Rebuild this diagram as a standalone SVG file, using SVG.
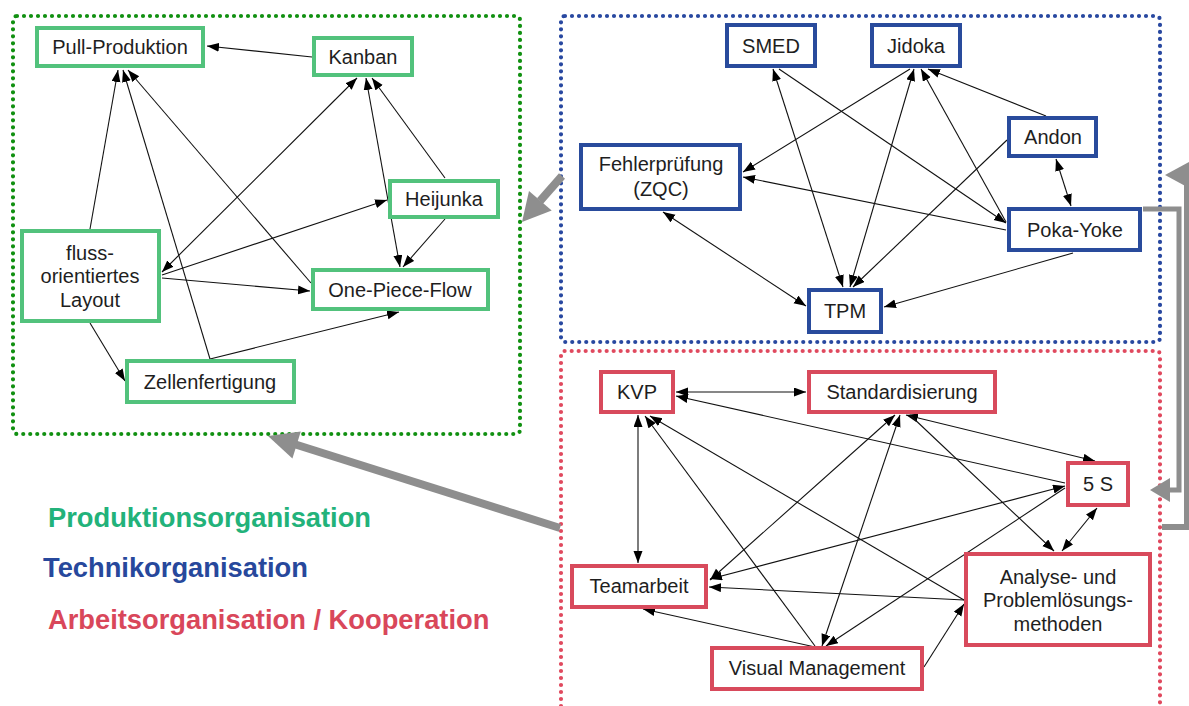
<svg xmlns="http://www.w3.org/2000/svg" width="1189" height="706" viewBox="0 0 1189 706">
  <style>
    .lbl { font-family: "Liberation Sans", Arial, sans-serif; font-size: 20px; fill: #1e1e1e; text-anchor: middle; }
    .leg { font-family: "Liberation Sans", Arial, sans-serif; font-size: 27.3px; font-weight: bold; }
    .g { fill: #ffffff; stroke: #52c27c; stroke-width: 4; }
    .b { fill: #ffffff; stroke: #294b9c; stroke-width: 4; }
    .r { fill: #ffffff; stroke: #d84a5c; stroke-width: 4; }
    .frame { fill: none; stroke-width: 4.2; stroke-linecap: round; stroke-dasharray: 0 7; }
    .edge { fill: none; stroke: #111111; stroke-width: 1.1; }
    .one { marker-end: url(#ah); }
    .two { marker-start: url(#ah); marker-end: url(#ah); }
    .grey { fill: #8e8e8e; }
    .greyline { fill: none; stroke: #8e8e8e; }
  </style>
  <defs>
    <marker id="ah" markerUnits="userSpaceOnUse" markerWidth="13" markerHeight="10" refX="12" refY="4.5" orient="auto-start-reverse">
      <path d="M0,0 L12,4.5 L0,9 z" fill="#000000"/>
    </marker>
  </defs>

  <rect width="1189" height="706" fill="#ffffff"/>

  <!-- dotted area frames -->
  <g id="frames">
    <rect class="frame" x="13" y="16" width="507" height="418" rx="4" stroke="#119011"/>
    <rect class="frame" x="561" y="16" width="599" height="326" rx="4" stroke="#2848a0"/>
    <path class="frame" d="M561,720 V355 Q561,351 565,351 H1156 Q1160,351 1160,355 V720" stroke="#e0495e"/>
  </g>

  <!-- grey arrows between the areas -->
  <g id="area-links">
    <line class="greyline" x1="562" y1="176" x2="540" y2="201" stroke-width="8"/>
    <polygon class="grey" points="522,222 551.7,210.6 529,191"/>
    <line class="greyline" x1="560" y1="528" x2="294" y2="444" stroke-width="8"/>
    <polygon class="grey" points="268,436 300.8,431.6 292.4,458.4"/>
    <path class="greyline" d="M1143,209 H1179 V490 H1168" stroke-width="5"/>
    <polygon class="grey" points="1150,490 1170,478 1170,502"/>
    <path class="greyline" d="M1162,527 H1187 V175 H1186" stroke-width="6"/>
    <polygon class="grey" points="1165,175 1189,162 1189,188"/>
  </g>

  <!-- connectors -->
  <g id="connectors">
    <!-- Produktionsorganisation -->
    <line class="edge one" x1="312" y1="57" x2="207" y2="46"/>
    <line class="edge one" x1="90" y1="229" x2="118" y2="70"/>
    <line class="edge one" x1="210" y1="359" x2="123" y2="70"/>
    <line class="edge one" x1="311" y1="283" x2="128" y2="70"/>
    <line class="edge two" x1="162" y1="272" x2="357" y2="78"/>
    <line class="edge two" x1="366" y1="78" x2="400" y2="267"/>
    <line class="edge one" x1="445" y1="178" x2="372" y2="78"/>
    <line class="edge one" x1="162" y1="275" x2="387" y2="200"/>
    <line class="edge one" x1="162" y1="278" x2="310" y2="291"/>
    <line class="edge one" x1="445" y1="219" x2="403" y2="267"/>
    <line class="edge one" x1="90" y1="323" x2="125" y2="381"/>
    <line class="edge one" x1="210" y1="359" x2="399" y2="312"/>
    <!-- Technikorganisation -->
    <line class="edge two" x1="773" y1="69" x2="843" y2="287"/>
    <line class="edge one" x1="779" y1="69" x2="1006" y2="223"/>
    <line class="edge one" x1="910" y1="69" x2="743" y2="172"/>
    <line class="edge two" x1="914" y1="69" x2="850" y2="287"/>
    <line class="edge one" x1="1006" y1="222" x2="921" y2="69"/>
    <line class="edge one" x1="1046" y1="116" x2="928" y2="69"/>
    <line class="edge one" x1="1007" y1="140" x2="853" y2="287"/>
    <line class="edge two" x1="1056" y1="159" x2="1071" y2="206"/>
    <line class="edge one" x1="1006" y1="230" x2="743" y2="177"/>
    <line class="edge two" x1="663" y1="212" x2="806" y2="306"/>
    <line class="edge one" x1="1073" y1="253" x2="884" y2="307"/>
    <!-- Arbeitsorganisation / Kooperation -->
    <line class="edge two" x1="676" y1="392" x2="806" y2="392"/>
    <line class="edge one" x1="1065" y1="483" x2="676" y2="396"/>
    <line class="edge two" x1="906" y1="415" x2="1095" y2="461"/>
    <line class="edge two" x1="638" y1="415" x2="638" y2="563"/>
    <line class="edge one" x1="815" y1="646" x2="645" y2="416"/>
    <line class="edge one" x1="964" y1="600" x2="650" y2="416"/>
    <line class="edge two" x1="895" y1="415" x2="710" y2="580"/>
    <line class="edge two" x1="822" y1="646" x2="900" y2="415"/>
    <line class="edge one" x1="910" y1="415" x2="1054" y2="551"/>
    <line class="edge two" x1="710" y1="579" x2="1065" y2="486"/>
    <line class="edge one" x1="1065" y1="488" x2="826" y2="646"/>
    <line class="edge two" x1="1097" y1="508" x2="1062" y2="551"/>
    <line class="edge one" x1="964" y1="600" x2="709" y2="587"/>
    <line class="edge one" x1="815" y1="647" x2="643" y2="609"/>
    <line class="edge one" x1="924" y1="667" x2="964" y2="604"/>
  </g>

  <!-- Produktionsorganisation nodes -->
  <g id="pull-produktion"><rect class="g" x="37" y="28" width="166" height="38"/><text class="lbl" x="120" y="54">Pull-Produktion</text></g>
  <g id="kanban"><rect class="g" x="314" y="38" width="98" height="37"/><text class="lbl" x="363" y="64">Kanban</text></g>
  <g id="heijunka"><rect class="g" x="390" y="181" width="108" height="36"/><text class="lbl" x="444" y="206">Heijunka</text></g>
  <g id="flusslayout"><rect class="g" x="22" y="231" width="137" height="90"/>
    <text class="lbl" x="90" y="260">fluss-</text>
    <text class="lbl" x="90" y="283">orientiertes</text>
    <text class="lbl" x="90" y="307">Layout</text></g>
  <g id="one-piece-flow"><rect class="g" x="313" y="270" width="175" height="39"/><text class="lbl" x="400" y="297">One-Piece-Flow</text></g>
  <g id="zellenfertigung"><rect class="g" x="127" y="361" width="167" height="41"/><text class="lbl" x="210" y="389">Zellenfertigung</text></g>

  <!-- Technikorganisation nodes -->
  <g id="smed"><rect class="b" x="727" y="25" width="88" height="41"/><text class="lbl" x="771" y="53">SMED</text></g>
  <g id="jidoka"><rect class="b" x="872" y="25" width="88" height="41"/><text class="lbl" x="916" y="53">Jidoka</text></g>
  <g id="andon"><rect class="b" x="1009" y="118" width="87" height="38"/><text class="lbl" x="1053" y="144">Andon</text></g>
  <g id="fehlerpruefung"><rect class="b" x="581" y="145" width="159" height="64"/>
    <text class="lbl" x="661" y="171">Fehlerprüfung</text>
    <text class="lbl" x="661" y="196">(ZQC)</text></g>
  <g id="poka-yoke"><rect class="b" x="1009" y="209" width="131" height="41"/><text class="lbl" x="1075" y="237">Poka-Yoke</text></g>
  <g id="tpm"><rect class="b" x="809" y="290" width="72" height="42"/><text class="lbl" x="845" y="318">TPM</text></g>

  <!-- Arbeitsorganisation / Kooperation nodes -->
  <g id="kvp"><rect class="r" x="601" y="372" width="72" height="40"/><text class="lbl" x="637" y="399">KVP</text></g>
  <g id="standardisierung"><rect class="r" x="809" y="372" width="186" height="40"/><text class="lbl" x="902" y="399">Standardisierung</text></g>
  <g id="fuenf-s"><rect class="r" x="1068" y="463" width="60" height="42"/><text class="lbl" x="1098" y="491">5 S</text></g>
  <g id="teamarbeit"><rect class="r" x="572" y="566" width="134" height="41"/><text class="lbl" x="639" y="593">Teamarbeit</text></g>
  <g id="analyse"><rect class="r" x="966" y="554" width="184" height="91"/>
    <text class="lbl" x="1058" y="584">Analyse- und</text>
    <text class="lbl" x="1058" y="607">Problemlösungs-</text>
    <text class="lbl" x="1058" y="631">methoden</text></g>
  <g id="visual-management"><rect class="r" x="712" y="648" width="210" height="41"/><text class="lbl" x="817" y="675">Visual Management</text></g>

  <!-- legend -->
  <g id="legend">
    <text class="leg" x="48" y="527" fill="#22b27a">Produktionsorganisation</text>
    <text class="leg" x="43" y="577" fill="#27489c">Technikorganisation</text>
    <text class="leg" x="48" y="629" fill="#d9475a">Arbeitsorganisation / Kooperation</text>
  </g>
</svg>
